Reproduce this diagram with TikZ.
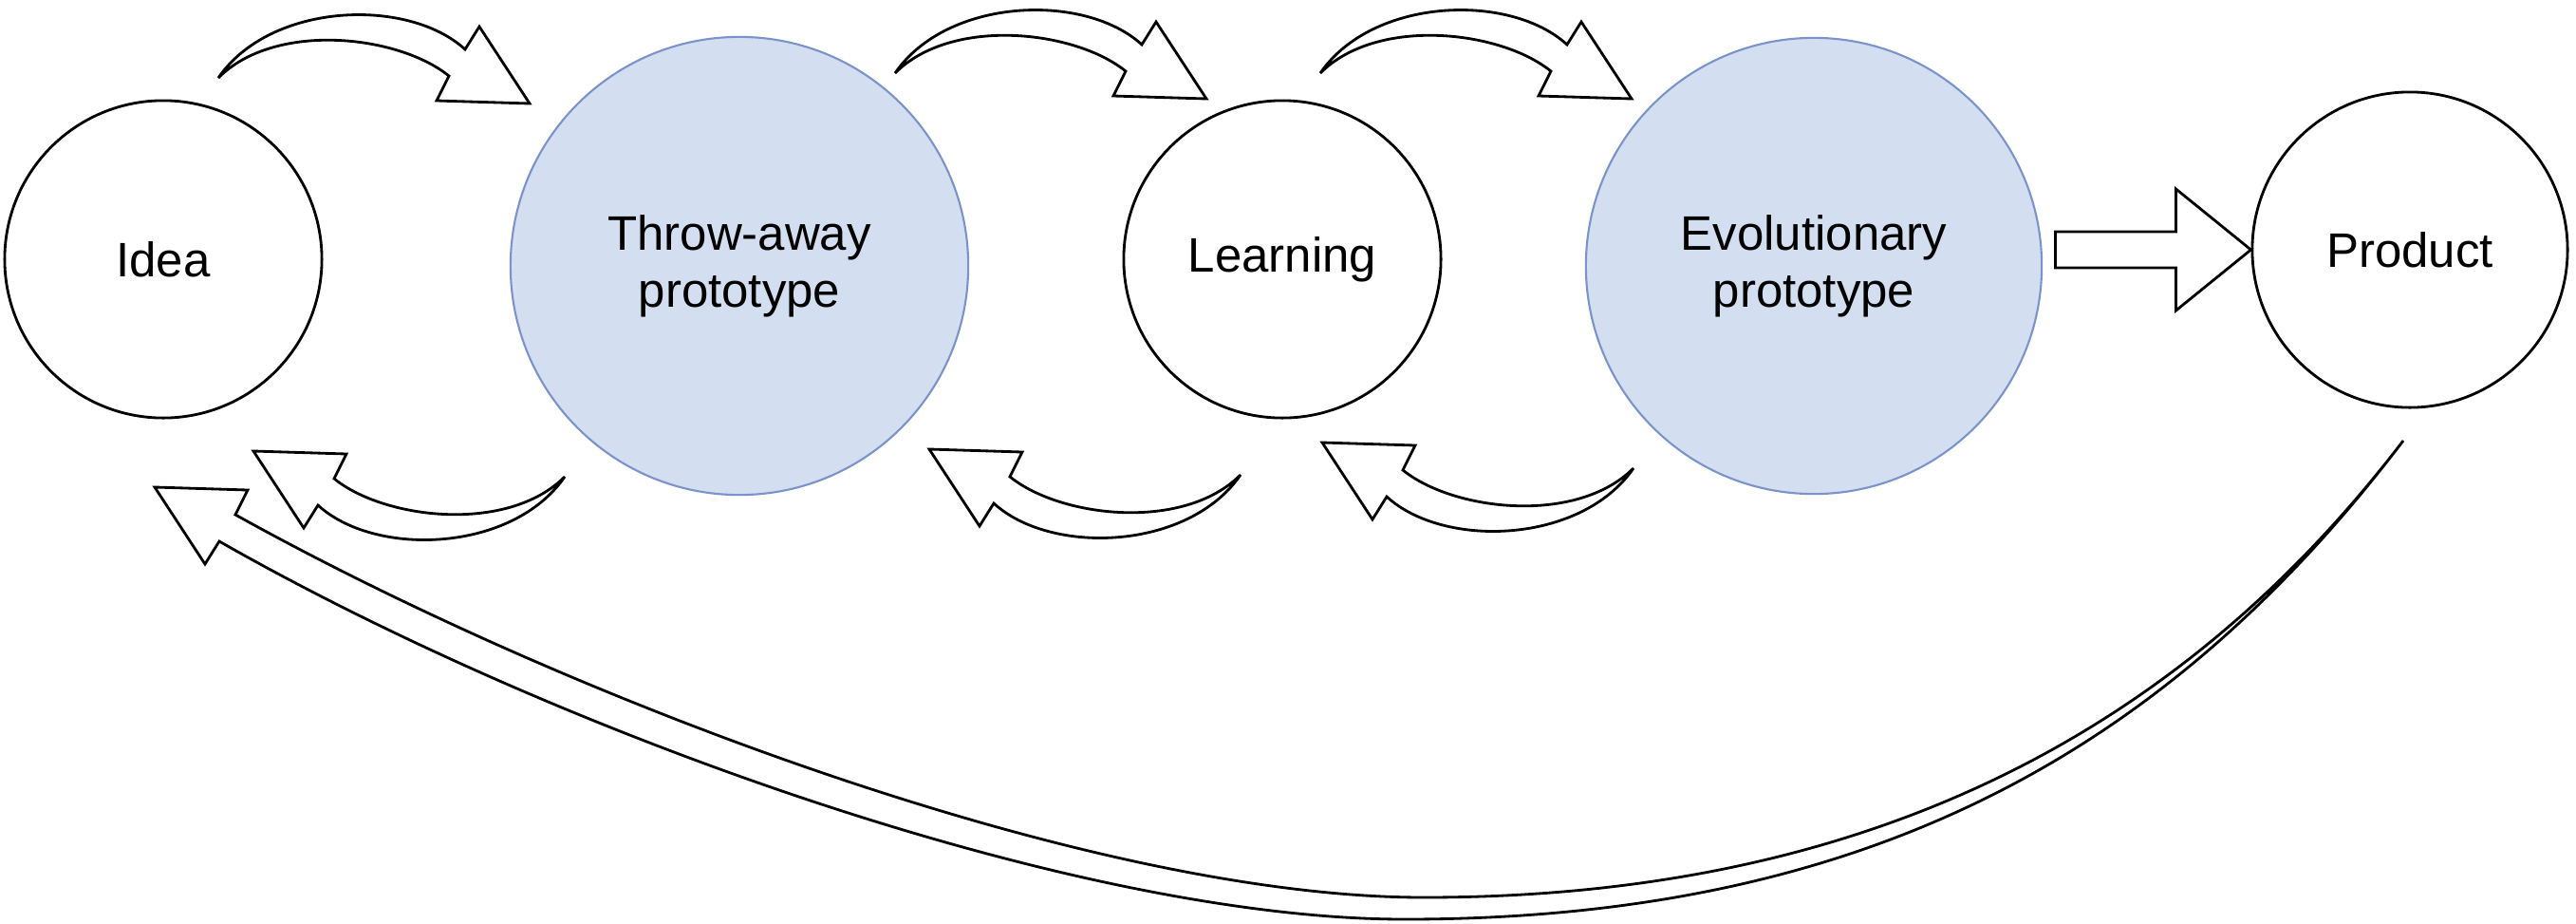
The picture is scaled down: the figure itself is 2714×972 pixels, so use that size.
\documentclass[tikz,border=0pt]{standalone}
\usepackage{fontspec}
\setmainfont{Liberation Sans}
\definecolor{protofill}{HTML}{D3DEF0}
\definecolor{protoline}{HTML}{7B93CA}

\def\bentarrow{(0,0) .. controls (55,-80) and (200,-85) .. (260,-30) -- (275,-54) -- (328,27) -- (230,24) -- (243,-2) .. controls (190,-45) and (60,-60) .. (0,0) -- cycle}

\begin{document}
\begin{tikzpicture}[x=0.01cm, y=-0.01cm, line join=miter,
    stage/.style={circle, draw, line width=0.8pt, inner sep=0pt, align=center,
      font=\fontsize{14.5}{17}\selectfont},
    proto/.style={stage, fill=protofill, draw=protoline, line width=0.6pt},
    hollow/.style={draw, line width=0.8pt}]
  \useasboundingbox (0,0) rectangle (2714,972);

  \node[stage, minimum size=3.34cm] (idea) at (172,273) {Idea};
  \node[proto, minimum size=4.82cm] (throw) at (779,280) {Throw-away\\prototype};
  \node[stage, minimum size=3.34cm] (learn) at (1351,273) {Learning};
  \node[proto, minimum size=4.80cm] (evol) at (1911,280) {Evolutionary\\prototype};
  \node[stage, minimum size=3.32cm] (prod) at (2539,263) {Product};

  % forward steps
  \draw[hollow, shift={(230,82)}] \bentarrow;
  \draw[hollow, shift={(943,77)}] \bentarrow;
  \draw[hollow, shift={(1391,77)}] \bentarrow;

  % steps back
  \draw[hollow, shift={(595,502)}, rotate=180] \bentarrow;
  \draw[hollow, shift={(1307,500)}, rotate=180] \bentarrow;
  \draw[hollow, shift={(1721,493)}, rotate=180] \bentarrow;

  % release
  \draw[hollow, shift={(prod.west)}] (-206,-19) -- (-79,-19) -- (-79,-64) -- (0,0)
    -- (-79,64) -- (-79,19) -- (-206,19) -- cycle;

  % back to a new idea
  \draw[hollow] (2532,464) .. controls (2290,782) and (1980,968) .. (1480,968)
    .. controls (1130,968) and (578,768) .. (231,570) -- (216,594) -- (163,513)
    -- (261,516) -- (248,542) .. controls (597,736) and (1150,945) .. (1500,945)
    .. controls (1970,945) and (2298,770) .. (2532,464) -- cycle;
\end{tikzpicture}
\end{document}
